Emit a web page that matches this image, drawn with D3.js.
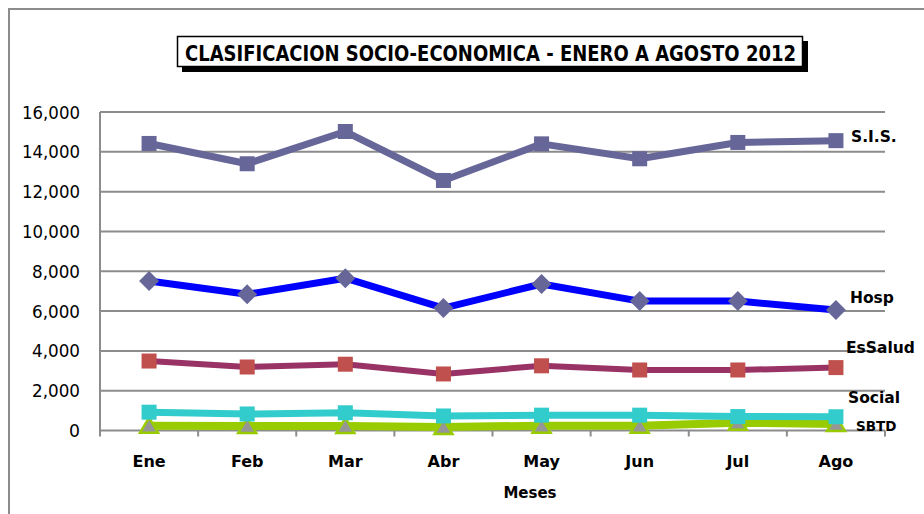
<!DOCTYPE html>
<html><head><meta charset="utf-8">
<script src="https://cdn.jsdelivr.net/npm/d3@7"></script>
<style>body{margin:0;background:#fff;} svg{display:block;}</style>
</head><body>
<svg id="c" width="924" height="514"></svg>
<script>
const months = ["Ene","Feb","Mar","Abr","May","Jun","Jul","Ago"];
const sis     = [14420, 13400, 15020, 12560, 14400, 13650, 14470, 14560];
const hosp    = [7510, 6840, 7650, 6150, 7360, 6500, 6500, 6050];
const essalud = [3490, 3190, 3330, 2840, 3250, 3040, 3040, 3160];
const social  = [920, 830, 890, 730, 770, 770, 700, 690];
const sbtd    = [240, 230, 230, 180, 240, 240, 390, 330];
const yTicks  = [0, 2000, 4000, 6000, 8000, 10000, 12000, 14000, 16000];
const titleText = "CLASIFICACION SOCIO-ECONOMICA - ENERO A AGOSTO 2012";
const xTitle = "Meses";

const svg = d3.select("#c");
const font = "DejaVu Sans, Verdana, sans-serif";

// outer frame
svg.append("rect").attr("x",9).attr("y",9).attr("width",940).attr("height",540)
  .attr("fill","none").attr("stroke","#8c8c8c").attr("stroke-width",2);

const L=100, R=885, T=112, B=430.5;
const x = d3.scaleBand().domain(months).range([L,R]);
const y = d3.scaleLinear().domain([0,16000]).range([B,T]);

// gridlines
svg.append("g").selectAll("line").data(yTicks).join("line")
  .attr("x1",L).attr("x2",R).attr("y1",d=>y(d)).attr("y2",d=>y(d))
  .attr("stroke","#8c8c8c").attr("stroke-width",2);
// y axis line
svg.append("line").attr("x1",L).attr("x2",L).attr("y1",T).attr("y2",B+1)
  .attr("stroke","#8c8c8c").attr("stroke-width",2);
// x ticks
const bounds = months.map(m=>x(m)).concat([R]);
svg.append("g").selectAll("line").data(bounds).join("line")
  .attr("x1",d=>d).attr("x2",d=>d).attr("y1",B).attr("y2",B+6)
  .attr("stroke","#8c8c8c").attr("stroke-width",2);

// y labels
svg.append("g").selectAll("text").data(yTicks).join("text")
  .attr("x",80).attr("y",d=>y(d)+6.5).attr("text-anchor","end")
  .attr("font-family",font).attr("font-size",18).attr("fill","#000")
  .attr("textLength",d=>d===0?11:(d<10000?48:58)).attr("lengthAdjust","spacingAndGlyphs")
  .text(d=>d3.format(",")(d));
// x labels
svg.append("g").selectAll("text").data(months).join("text")
  .attr("x",d=>x(d)+x.bandwidth()/2).attr("y",467).attr("text-anchor","middle")
  .attr("font-family",font).attr("font-weight","bold").attr("font-size",16).attr("fill","#000")
  .text(d=>d);
svg.append("text").attr("x",530).attr("y",498).attr("text-anchor","middle")
  .attr("font-family",font).attr("font-weight","bold").attr("font-size",15).text(xTitle);

const cx = d=>x(d)+x.bandwidth()/2;
const line = d3.line().x((d,i)=>cx(months[i])).y(d=>y(d));

function drawSeries(vals, color, width, marker, mcolor, mstroke){
  svg.append("path").datum(vals).attr("d",line).attr("fill","none")
    .attr("stroke",color).attr("stroke-width",width).attr("stroke-linejoin","round");
  const g = svg.append("g");
  vals.forEach((v,i)=>{
    const px=cx(months[i]), py=y(v);
    if(marker==="square"){
      g.append("rect").attr("x",px-7.5).attr("y",py-7.5).attr("width",15).attr("height",15).attr("fill",mcolor);
    } else if(marker==="diamond"){
      g.append("path").attr("d",`M${px},${py-10}L${px+10},${py}L${px},${py+10}L${px-10},${py}Z`).attr("fill",mcolor);
    } else if(marker==="tri"){
      g.append("path").attr("d",`M${px},${py-8}L${px+9},${py+7}L${px-9},${py+7}Z`)
        .attr("fill",mcolor).attr("stroke",mstroke).attr("stroke-width",2.5);
    }
  });
}
drawSeries(sis, "#666699", 7, "square", "#666699");
drawSeries(hosp, "#0000ff", 7, "diamond", "#666699");
drawSeries(essalud, "#993366", 6, "square", "#c0504d");
drawSeries(sbtd, "#99cc00", 8, "tri", "#969696", "#99cc00");
drawSeries(social, "#33cccc", 7, "square", "#33cccc");

// series labels
const labels = [
  {t:"S.I.S.", x:851, y:142, s:15.5},
  {t:"Hosp", x:850, y:303, s:15.5},
  {t:"EsSalud", x:846, y:353, s:15.5},
  {t:"Social", x:848, y:403, s:15.5},
  {t:"SBTD", x:856, y:431, s:13.5}
];
svg.append("g").selectAll("text").data(labels).join("text")
  .attr("x",d=>d.x).attr("y",d=>d.y).attr("font-family",font).attr("font-weight","bold")
  .attr("font-size",d=>d.s).text(d=>d.t);

// title box with shadow
svg.append("rect").attr("x",182).attr("y",41).attr("width",626).attr("height",31).attr("fill","#000");
svg.append("rect").attr("x",177.5).attr("y",36.5).attr("width",625).attr("height",30)
  .attr("fill","#fff").attr("stroke","#000").attr("stroke-width",1.5);
svg.append("text").attr("x",185).attr("y",60.5).attr("font-family",font).attr("font-weight","bold")
  .attr("font-size",21).attr("textLength",611).attr("lengthAdjust","spacingAndGlyphs").text(titleText);
</script>
</body></html>
